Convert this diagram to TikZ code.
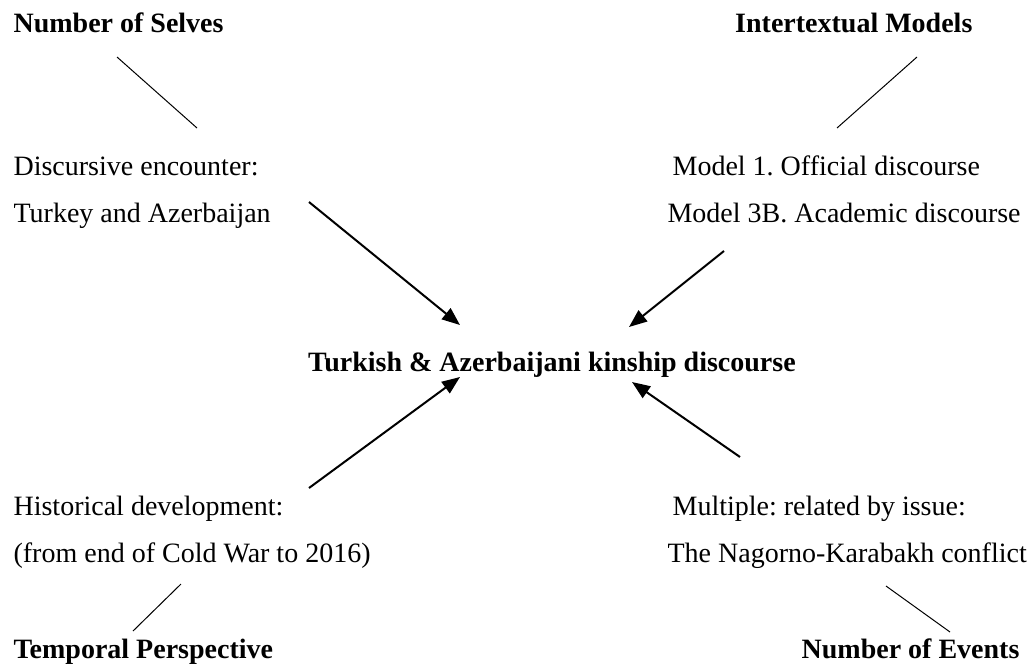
\documentclass[tikz,border=0pt]{standalone}
\usepackage{fontspec}
\setmainfont{Liberation Serif}
\usetikzlibrary{arrows.meta}
\frenchspacing

\begin{document}
\begin{tikzpicture}[x=0.5pt,y=-0.5pt,>={Triangle[length=9pt,width=7pt]},
                    every node/.style={inner sep=0pt,font=\fontsize{14}{16.8}\selectfont},
                    semithick]
  \tikzstyle{head}=[font=\fontsize{14}{16.8}\selectfont\bfseries]
  \tikzstyle{thin}=[line width=0.5pt]
  \tikzstyle{arrow}=[->,line width=1pt]

  \useasboundingbox (0,0) rectangle (1028,666);

  % four corners
  \node[head,anchor=base west]  (nselves)   at (13,32)   {Number of Selves};
  \node[head,anchor=base east]  (intmodels) at (973,32)  {Intertextual Models};
  \node[head,anchor=base west]  (temppersp) at (13,658)  {Temporal Perspective};
  \node[head,anchor=base east]  (nevents)   at (1020,658) {Number of Events};

  % texts
  \node[anchor=base west] (discenc)  at (13,175)  {Discursive encounter:};
  \node[anchor=base west] (turkaz)   at (13,222)  {Turkey and Azerbaijan};
  \node[anchor=base west] (model1)   at (672,175) {Model 1. Official discourse};
  \node[anchor=base west] (model3b)  at (667,222) {Model 3B. Academic discourse};
  \node[anchor=base west] (histdev)  at (13,515)  {Historical development:};
  \node[anchor=base west] (fromend)  at (13,562)  {(from end of Cold War to 2016)};
  \node[anchor=base west] (multiple) at (672,515) {Multiple: related by issue:};
  \node[anchor=base west] (nagorno)  at (667,562) {The Nagorno-Karabakh conflict};

  \node[head,anchor=base] (kinship) at (552,371) {Turkish \& Azerbaijani kinship discourse};

  \coordinate (A) at (117,57);
  \coordinate (B) at (197,128);
  \coordinate (C) at (917,57);
  \coordinate (D) at (837,128);
  \coordinate (E) at (181,584);
  \coordinate (F) at (133,631);
  \coordinate (G) at (886,586);
  \coordinate (H) at (950,632);

  \coordinate (P) at (309,202);
  \coordinate (Q) at (460,325);
  \coordinate (R) at (724,251);
  \coordinate (S) at (629,327);
  \coordinate (T) at (309,488);
  \coordinate (U) at (460,377);
  \coordinate (V) at (740,457);
  \coordinate (W) at (632,382);

  \path[thin] (A) edge (B)
              (C) edge (D)
              (E) edge (F)
              (G) edge (H);

  \path[arrow] (P) edge (Q)
               (R) edge (S)
               (T) edge (U)
               (V) edge (W);

\end{tikzpicture}
\end{document}
